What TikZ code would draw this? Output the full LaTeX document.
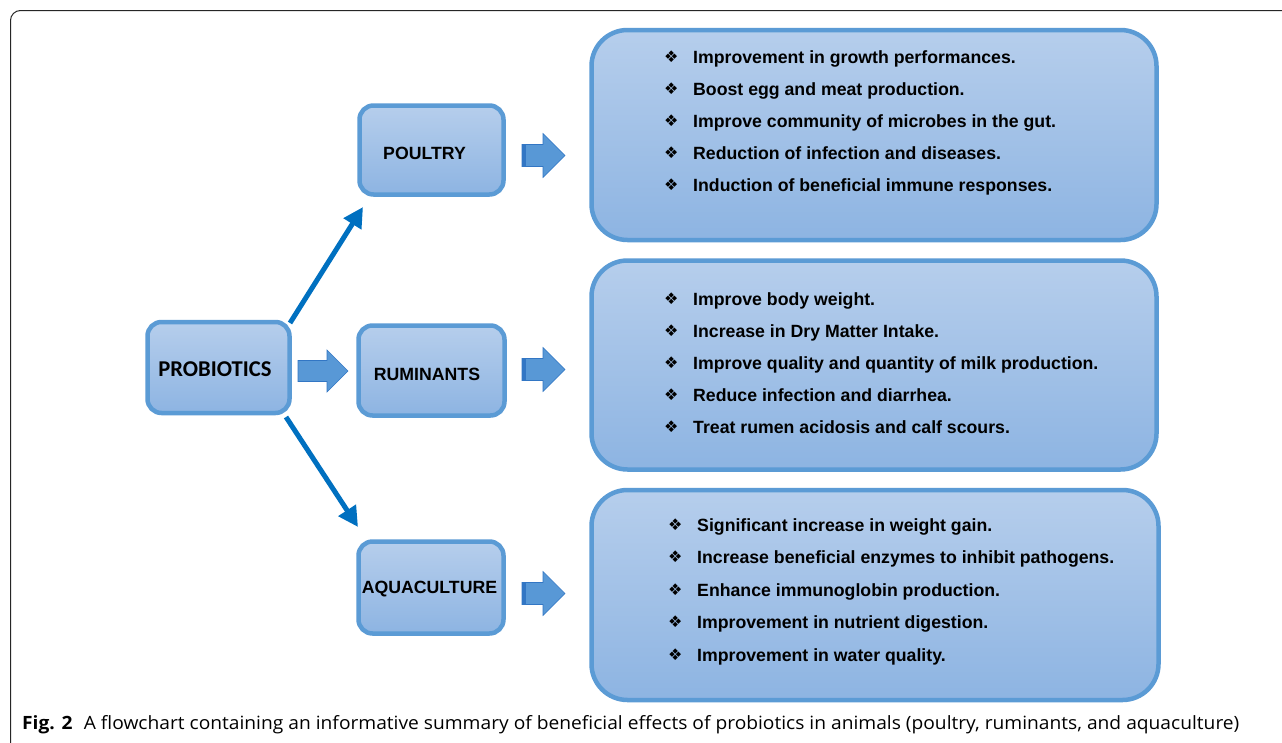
\documentclass[tikz,border=0pt]{standalone}
\usepackage{fontspec}
\setmainfont{Liberation Sans}
\newfontfamily\calib{Carlito}
\newfontfamily\capfont{Open Sans}
\newfontfamily\dejavu{DejaVu Sans}
\usetikzlibrary{arrows.meta}
\definecolor{boxtop}{RGB}{182,206,236}
\definecolor{boxbot}{RGB}{141,180,226}
\definecolor{boxline}{RGB}{91,155,213}
\definecolor{arrfill}{RGB}{88,152,214}
\definecolor{arrdark}{RGB}{50,118,196}
\definecolor{diagblue}{RGB}{0,112,192}
\tikzset{
  box/.style={draw=boxline, line width=4.5pt, top color=boxtop, bottom color=boxbot, rounded corners=14pt, inner sep=0pt},
  bigbox/.style={box, rounded corners=36pt},
  diag/.style={draw=diagblue, line width=5pt, -{Triangle[length=20pt,width=20pt]}},
  blockarrow/.style={fill=arrfill, draw=arrdark, line width=0.6pt},
  label/.style={font=\bfseries\fontsize{17.7}{21}\selectfont},
  item/.style={anchor=base west, font=\bfseries\fontsize{17.7}{21}\selectfont, inner sep=0pt},
  bul/.style={anchor=base west, font=\dejavu\fontsize{16}{18}\selectfont, inner sep=0pt}
}
\begin{document}
\begin{tikzpicture}[x=1pt,y=-1pt]
\useasboundingbox (0,0) rectangle (1282,742);
\fill[white] (0,0) rectangle (1282,742);
% outer frame
\draw[line width=1pt, black!85, rounded corners=10pt] (1290,10.5) -- (10.5,10.5) -- (10.5,750);

% small boxes
\node[box, minimum width=142pt, minimum height=91pt] (prob) at (218.5,367.5) {};
\node[font=\calib\bfseries\fontsize{22.6}{26}\selectfont] (probt) at (215,369) {PROBIOTICS};
\node[box, minimum width=144pt, minimum height=89pt] (poul) at (431.5,150) {};
\node[label] (poult) at (424.5,153) {POULTRY};
\node[box, minimum width=146pt, minimum height=90pt] (rum) at (431.5,370.5) {};
\node[label] (rumt) at (427,374) {RUMINANTS};
\node[box, minimum width=145pt, minimum height=92pt] (aqua) at (431,587.5) {};
\node[label] (aquat) at (429.5,589) {AQUACULTURE};

% big boxes
\node[bigbox, minimum width=565pt, minimum height=210pt] (L1) at (874,135) {};
\node[bigbox, minimum width=565pt, minimum height=209pt] (L2) at (874,365) {};
\node[bigbox, minimum width=567pt, minimum height=210pt] (L3) at (875,595) {};

% diagonal arrows
\coordinate (d1s) at (290,323);
\coordinate (d1e) at (363,207);
\coordinate (d2s) at (286,417);
\coordinate (d2e) at (358,527);
\draw[diag] (d1s) -- (d1e);
\draw[diag] (d2s) -- (d2e);

% block arrows
\newcommand{\blockarr}[3]{% x-left, y-center, name
  \coordinate (#3) at (#1,#2);
  \draw[blockarrow] ([shift={(0,-11)}]#3) -- ([shift={(21,-11)}]#3) -- ([shift={(21,-22)}]#3) -- ([shift={(43,0)}]#3) -- ([shift={(21,22)}]#3) -- ([shift={(21,11)}]#3) -- ([shift={(0,11)}]#3) -- cycle;
  \fill[arrdark] ([shift={(0,-11)}]#3) rectangle ([shift={(4,11)}]#3);
}
\coordinate (pa) at (298,371);
\draw[blockarrow] ([shift={(0,-10.5)}]pa) -- ([shift={(29,-10.5)}]pa) -- ([shift={(29,-21)}]pa) -- ([shift={(50,0)}]pa) -- ([shift={(29,21)}]pa) -- ([shift={(29,10.5)}]pa) -- ([shift={(0,10.5)}]pa) -- cycle;
\blockarr{522}{155.5}{a1}
\blockarr{522}{369.5}{a2}
\blockarr{522}{593.5}{a3}

% poultry list
\foreach \y/\t [count=\i] in {63/Improvement in growth performances.,95/Boost egg and meat production.,127/Improve community of microbes in the gut.,159/Reduction of infection and diseases.,191/Induction of beneficial immune responses.}{
  \node[bul] (pb\i) at (664,\y-1) {❖};
  \node[item] (pt\i) at (693,\y) {\t};
}
% ruminants list
\foreach \y/\t [count=\i] in {305/Improve body weight.,337/Increase in Dry Matter Intake.,369/Improve quality and quantity of milk production.,401/Reduce infection and diarrhea.,433/Treat rumen acidosis and calf scours.}{
  \node[bul] (rb\i) at (664,\y-1) {❖};
  \node[item] (rt\i) at (693,\y) {\t};
}
% aquaculture list
\foreach \y/\t [count=\i] in {531/Significant increase in weight gain.,563/Increase beneficial enzymes to inhibit pathogens.,596/Enhance immunoglobin production.,628/Improvement in nutrient digestion.,661/Improvement in water quality.}{
  \node[bul] (ab\i) at (668,\y-1) {❖};
  \node[item] (at\i) at (697,\y) {\t};
}

% caption
\node[anchor=base west, inner sep=0pt, font=\capfont\fontsize{18.3}{21}\selectfont] (cap) at (22,729)
  {\scalebox{1.049}[1]{\textbf{Fig. 2}\hspace{6pt} A flowchart containing an informative summary of beneficial effects of probiotics in animals (poultry, ruminants, and aquaculture)}};
\end{tikzpicture}
\end{document}
